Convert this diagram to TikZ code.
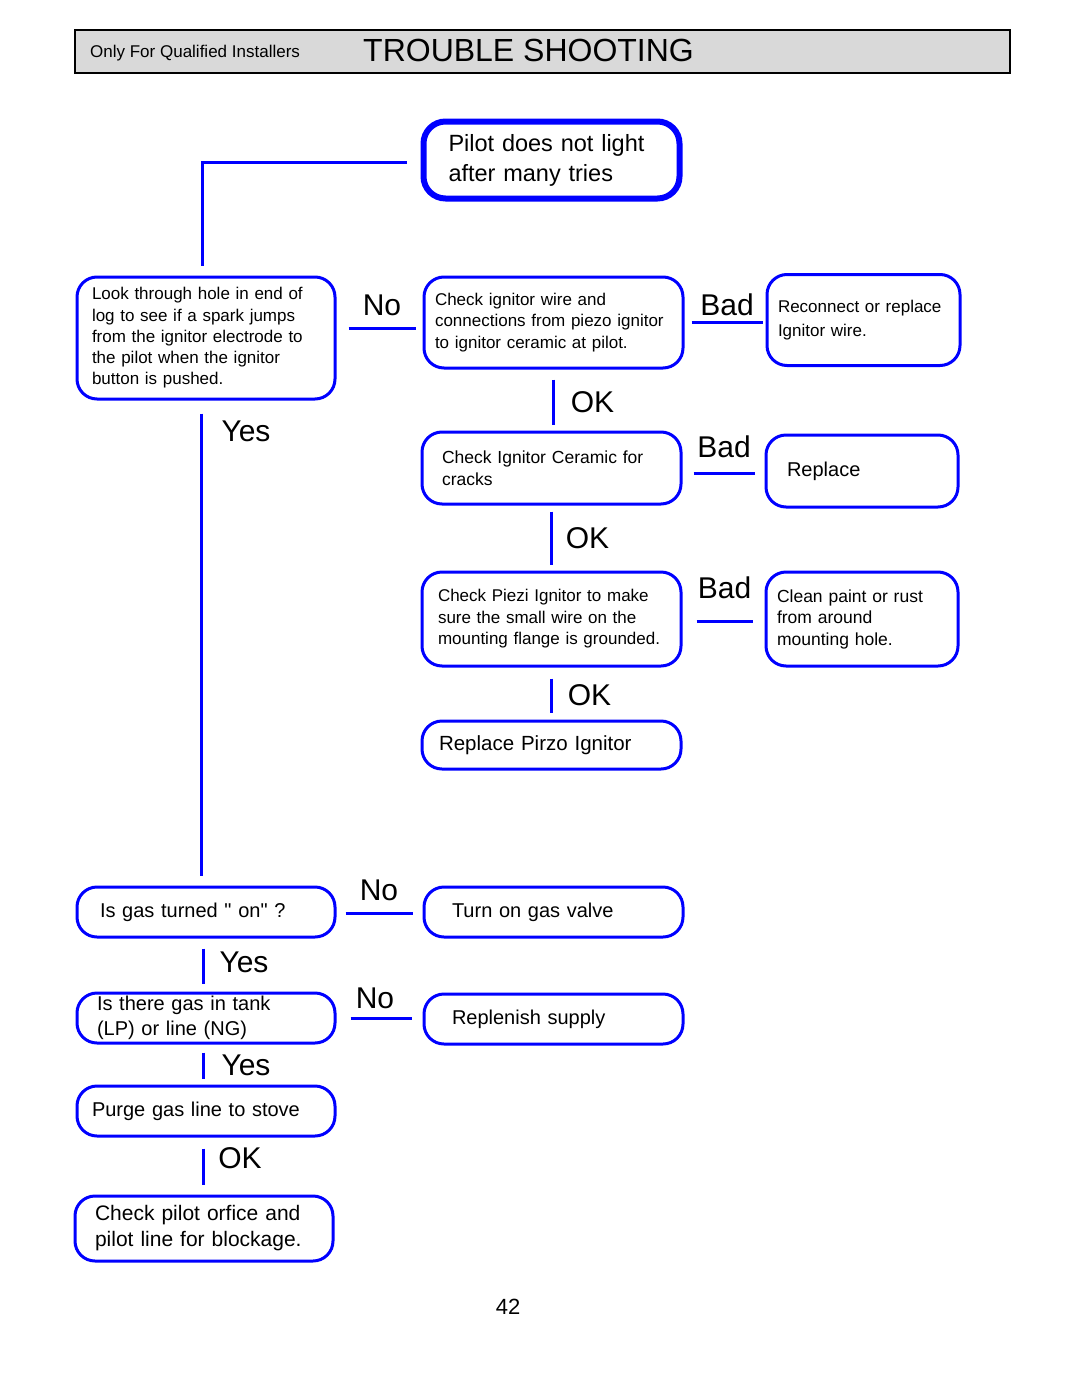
\documentclass[tikz,border=0pt]{standalone}
\usepackage{fontspec}
\setmainfont{Liberation Sans}[Ligatures=TeXOff]
\begin{document}
\begin{tikzpicture}[x=1pt,y=-1pt,
  box/.style={draw=blue, line width=3pt, rounded corners=20pt, align=left, inner sep=0pt},
  link/.style={draw=blue, line width=3pt},
  lbl/.style={font=\fontsize{30}{30}\selectfont, inner sep=0pt}]
\useasboundingbox (0,0) rectangle (1080,1397);
% header bar
\node[draw=black, line width=2pt, fill=black!15, minimum width=935pt, minimum height=43pt, inner sep=0pt] (hdr) at (542.5,51.5) {};
\node[anchor=west, inner sep=0pt, font=\fontsize{17}{17}\selectfont] (qual) at (90,53) {Only For Qualified Installers};
\node[anchor=west, inner sep=0pt, font=\fontsize{32}{32}\selectfont] (title) at (363,50) {TROUBLE SHOOTING};
% start
\node[box, line width=6pt, rounded corners=22pt, minimum width=256pt, minimum height=77pt, text width=206pt, font=\fontsize{23.5}{30}\selectfont] (pilot) at (551.5,160) {Pilot does not light\\after many tries};
% spark check column
\node[box, minimum width=258pt, minimum height=122pt, text width=228pt, font=\fontsize{17}{21.3}\selectfont] (look) at (206,338) {Look through hole in end of\\log to see if a spark jumps\\from the ignitor electrode to\\the pilot when the ignitor\\button is pushed.};
\node[box, minimum width=259pt, minimum height=91pt, text width=237pt, font=\fontsize{17}{21.5}\selectfont] (wire) at (553.5,322.5) {Check ignitor wire and\\connections from piezo ignitor\\to ignitor ceramic at pilot.};
\node[box, minimum width=193pt, minimum height=91pt, text width=171pt, font=\fontsize{17}{24}\selectfont] (recon) at (863.5,320) {Reconnect or replace\\Ignitor wire.};
\node[box, minimum width=259pt, minimum height=72pt, text width=219pt, font=\fontsize{17.5}{22}\selectfont] (ceramic) at (551.5,468) {Check Ignitor Ceramic for\\cracks};
\node[box, minimum width=192pt, minimum height=72pt, text width=150pt, font=\fontsize{20}{24}\selectfont] (replace) at (862,471) {Replace};
\node[box, minimum width=259pt, minimum height=94pt, text width=227pt, font=\fontsize{17}{21.5}\selectfont] (piezi) at (551.5,619) {Check Piezi Ignitor to make\\sure the small wire on the\\mounting flange is grounded.};
\node[box, minimum width=192pt, minimum height=94pt, text width=170pt, font=\fontsize{17.5}{21.5}\selectfont] (clean) at (862,619) {Clean paint or rust\\from around\\mounting hole.};
\node[box, minimum width=259pt, minimum height=48pt, text width=225pt, font=\fontsize{20.5}{24}\selectfont] (pirzo) at (551.5,745) {Replace Pirzo Ignitor};
% gas supply column
\node[box, minimum width=258pt, minimum height=50pt, text width=212pt, font=\fontsize{20}{24}\selectfont] (gasOn) at (206,912) {Is gas turned " on" ?};
\node[box, minimum width=259pt, minimum height=50pt, text width=203pt, font=\fontsize{20}{24}\selectfont] (valve) at (553.5,912) {Turn on gas valve};
\node[box, minimum width=258pt, minimum height=50pt, text width=218pt, font=\fontsize{20}{25}\selectfont] (tank) at (206,1018) {Is there gas in tank\\(LP) or line (NG)};
\node[box, minimum width=259pt, minimum height=50pt, text width=203pt, font=\fontsize{20}{24}\selectfont] (replenish) at (553.5,1019) {Replenish supply};
\node[box, minimum width=258pt, minimum height=50pt, text width=228pt, font=\fontsize{20}{24}\selectfont] (purge) at (206,1111) {Purge gas line to stove};
\node[box, minimum width=258pt, minimum height=65pt, text width=218pt, font=\fontsize{21}{26}\selectfont] (orfice) at (204,1228.5) {Check pilot orfice and\\pilot line for blockage.};
\node[inner sep=0pt, font=\fontsize{22}{22}\selectfont] (page) at (508,1307) {42};
% connectors
\draw[link] ([xshift=-14pt,yshift=-2pt]pilot.west) -| ([xshift=-4pt,yshift=10pt]look.north);
\draw[link] ([xshift=12pt]look.east |- 0,328) -- ([xshift=-7pt]wire.west |- 0,328) node[lbl, midway, yshift=23pt] {No};
\draw[link] ([xshift=7pt]wire.east) -- ([xshift=-3pt]recon.west |- wire.east) node[lbl, midway, yshift=18pt] {Bad};
\draw[link] ([yshift=-10pt]wire.south) -- ([yshift=6pt]wire.south |- ceramic.north) node[lbl, midway, xshift=39pt] {OK};
\draw[link] ([xshift=11pt]ceramic.east |- 0,473) -- ([xshift=-10pt]replace.west |- 0,473) node[lbl, midway, yshift=26pt] {Bad};
\draw[link] ([yshift=-6pt]ceramic.south) -- ([yshift=6pt]piezi.north) node[lbl, midway, xshift=36pt] {OK};
\draw[link] ([xshift=14pt]piezi.east |- 0,621) -- ([xshift=-12pt]clean.west |- 0,621) node[lbl, midway, yshift=33pt] {Bad};
\draw[link] ([yshift=-11pt]piezi.south) -- ([yshift=7pt]pirzo.north) node[lbl, midway, xshift=38pt] {OK};
\draw[link] ([xshift=-5pt,yshift=-13pt]look.south) -- ([xshift=-5pt,yshift=10pt]gasOn.north) node[lbl, pos=0, xshift=45pt, yshift=-18pt] {Yes};
\draw[link] ([xshift=9pt]gasOn.east |- 0,913) -- ([xshift=-10pt]valve.west |- 0,913) node[lbl, midway, yshift=23pt] {No};
\draw[link] ([xshift=-3pt,yshift=-10pt]gasOn.south) -- ([xshift=-3pt,yshift=8pt]tank.north) node[lbl, midway, xshift=41pt, yshift=4pt] {Yes};
\draw[link] ([xshift=14pt]tank.east) -- ([xshift=-11pt]replenish.west |- tank.east) node[lbl, midway, xshift=-6pt, yshift=20pt] {No};
\draw[link] ([xshift=-3pt,yshift=-8pt]tank.south) -- ([xshift=-3pt,yshift=6pt]purge.north) node[lbl, midway, xshift=43pt] {Yes};
\draw[link] ([xshift=-3pt,yshift=-11pt]purge.south) -- ([xshift=-3pt,yshift=10pt]purge.south |- orfice.north) node[lbl, midway, xshift=37pt, yshift=8.5pt] {OK};
\end{tikzpicture}
\end{document}
